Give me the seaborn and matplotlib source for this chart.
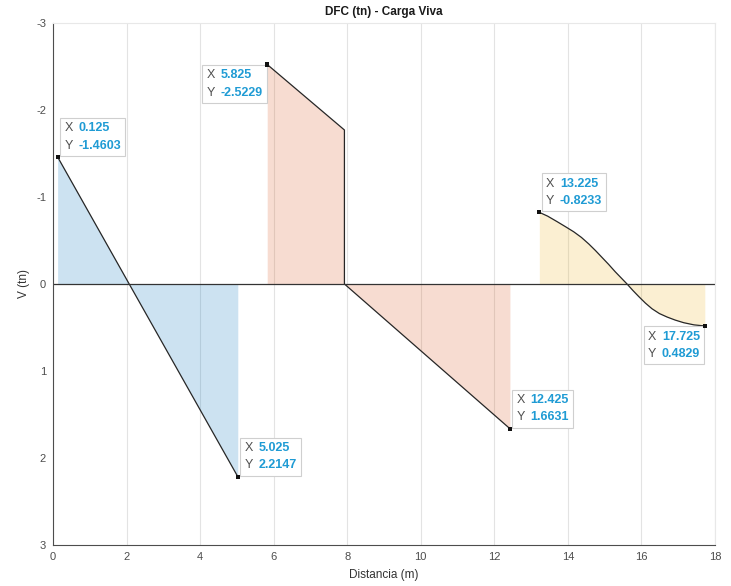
import matplotlib
matplotlib.use("Agg")
import matplotlib.pyplot as plt
import seaborn as sns
import pandas as pd
from matplotlib.offsetbox import TextArea, VPacker, HPacker, AnnotationBbox

# tramo 1 (azul)
x_t1 = [0.125, 5.025]
v_t1 = [-1.4603, 2.2147]
# tramo 2 (naranja), salto en x = 7.925
x_t2 = [5.825, 7.925, 7.925, 12.425]
v_t2 = [-2.5229, -1.77, 0.0, 1.6631]
# tramo 3 (amarillo)
x_t3 = [13.225, 13.45, 13.71, 13.93, 14.16, 14.37, 14.57, 14.75, 14.93, 15.11,
        15.29, 15.45, 15.61, 15.77, 15.93, 16.11, 16.29, 16.49, 16.70, 16.92,
        17.15, 17.43, 17.725]
v_t3 = [-0.8233, -0.78, -0.716, -0.66, -0.60, -0.535, -0.46, -0.385, -0.305, -0.225,
        -0.14, -0.07, 0.0, 0.075, 0.145, 0.22, 0.285, 0.34, 0.38, 0.415,
        0.445, 0.47, 0.4829]

# datatips
tip_x = [0.125, 5.825, 5.025, 12.425, 13.225, 17.725]
tip_y = [-1.4603, -2.5229, 2.2147, 1.6631, -0.8233, 0.4829]

x_ticks = [0, 2, 4, 6, 8, 10, 12, 14, 16, 18]
y_ticks = [-3, -2, -1, 0, 1, 2, 3]

fill_colors = ["#0072BD", "#D95319", "#EDB120"]
tip_side = ["ur", "ll", "ur", "ur", "ur", "ll"]

sns.set_style("white")
plt.rcParams["font.family"] = ["Liberation Sans", "DejaVu Sans"]
plt.rcParams["axes.unicode_minus"] = False

fig = plt.figure(figsize=(7.31, 5.86), dpi=100)
ax = fig.add_axes([0.0725, 0.070, 0.9055, 0.8908])

segments = [(x_t1, v_t1), (x_t2, v_t2), (x_t3, v_t3)]
for (xs, vs), col in zip(segments, fill_colors):
    ax.fill_between(xs, vs, 0, color=col, alpha=0.2, linewidth=0)
    df = pd.DataFrame({"x": xs, "v": vs})
    sns.lineplot(data=df, x="x", y="v", ax=ax, sort=False, estimator=None,
                 color="#262626", linewidth=0.9)

ax.axhline(0, color="#333333", linewidth=0.9)

tips = pd.DataFrame({"x": tip_x, "v": tip_y})
sns.scatterplot(data=tips, x="x", y="v", ax=ax, marker="s", s=9,
                color="#111111", edgecolor="none", zorder=7)

fs = 9
pad = 0.75
lab_props = dict(color="#505050", fontsize=fs)
val_props = dict(color="#1f9bd4", fontsize=fs, fontweight="bold")
for x, y, side in zip(tip_x, tip_y, tip_side):
    lab = VPacker(children=[TextArea("X", textprops=lab_props),
                            TextArea("Y", textprops=lab_props)],
                  align="right", pad=0, sep=4)
    val = VPacker(children=[TextArea(str(x), textprops=val_props),
                            TextArea(str(y), textprops=val_props)],
                  align="left", pad=0, sep=4)
    box = HPacker(children=[lab, val], align="top", pad=0, sep=4)
    if side == "ur":
        align, off = (0, 0), (4.8, 3.8)
    else:
        align, off = (1, 1), (-3.3, -3.3)
    ab = AnnotationBbox(box, (x, y), xybox=off, boxcoords="offset points",
                        box_alignment=align, frameon=True, pad=pad,
                        bboxprops=dict(boxstyle="square", facecolor="white",
                                       edgecolor="#cfcfcf", linewidth=0.8),
                        zorder=6)
    ax.add_artist(ab)

ax.set_xlim(0, 18)
ax.set_ylim(3, -3)
ax.set_xticks(x_ticks)
ax.set_yticks(y_ticks)
ax.xaxis.grid(True, color="#e3e3e3", linewidth=0.8)
ax.yaxis.grid(False)
ax.set_axisbelow(True)

ax.tick_params(direction="in", length=4, width=0.8, colors="#4d4d4d",
               labelsize=8, labelcolor="#4d4d4d", pad=5)
for s in ["left", "bottom"]:
    ax.spines[s].set_color("#4d4d4d")
    ax.spines[s].set_linewidth(0.8)
for s in ["top", "right"]:
    ax.spines[s].set_color("#e8e8e8")
    ax.spines[s].set_linewidth(0.8)

ax.set_title("DFC (tn) - Carga Viva", fontsize=8.5, fontweight="bold",
             color="#1a1a1a", pad=6)
ax.set_xlabel("Distancia (m)", fontsize=8.5, color="#333333", labelpad=5)
ax.set_ylabel("V (tn)", fontsize=8.5, color="#333333", labelpad=4)

fig.savefig("out.png", dpi=100)
